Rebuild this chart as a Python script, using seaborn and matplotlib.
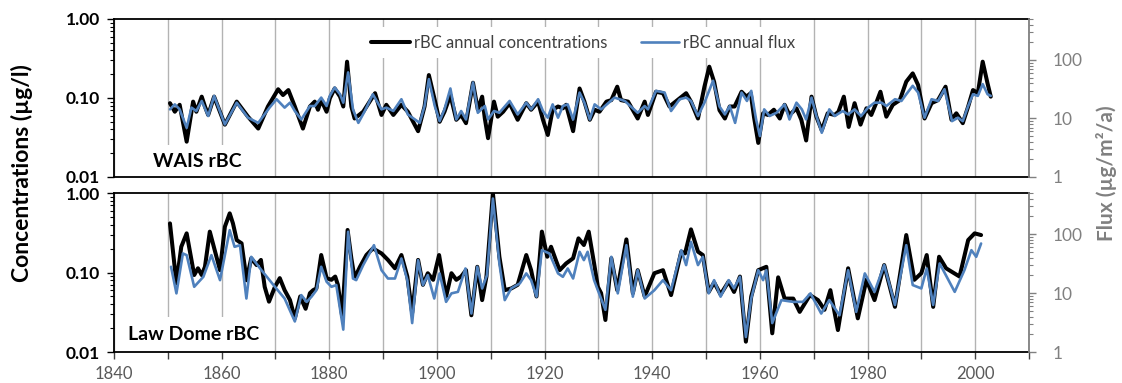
import numpy as np
import pandas as pd
import matplotlib
matplotlib.use("Agg")
import matplotlib.pyplot as plt
import seaborn as sns
from matplotlib.ticker import LogLocator, NullFormatter

# ---------------- data ----------------
wais_conc = [(1850.4,0.086),(1851.3,0.067),(1852.2,0.082),(1853.5,0.028),(1854.7,0.090),(1855.3,0.067),
 (1856.3,0.104),(1856.9,0.078),(1857.5,0.061),(1858.6,0.104),(1860.6,0.046),(1862.8,0.090),(1864.9,0.058),
 (1866.8,0.041),(1868.6,0.078),(1870.5,0.129),(1871.4,0.109),(1872.4,0.126),(1873.6,0.078),(1875.1,0.041),
 (1876.4,0.078),(1877.3,0.090),(1877.9,0.071),(1878.5,0.094),(1879.5,0.067),(1880.1,0.099),(1881.0,0.132),
 (1882.0,0.104),(1882.6,0.078),(1883.3,0.288),(1884.1,0.078),(1884.7,0.055),(1886.3,0.067),(1888.5,0.115),
 (1889.7,0.061),(1890.6,0.082),(1891.9,0.061),(1893.4,0.082),(1894.6,0.067),(1896.5,0.038),(1897.7,0.078),
 (1898.5,0.195),(1899.6,0.094),(1900.5,0.050),(1901.4,0.067),(1902.5,0.109),(1903.6,0.053),(1904.5,0.061),
 (1905.4,0.048),(1906.7,0.156),(1907.6,0.071),(1908.4,0.104),(1908.9,0.055),(1909.5,0.031),(1910.6,0.090),
 (1911.3,0.058),(1912.3,0.067),(1913.5,0.086),(1915.0,0.053),(1916.6,0.086),(1917.5,0.071),(1918.8,0.090),
 (1919.7,0.053),(1920.6,0.034),(1921.5,0.071),(1922.5,0.078),(1923.4,0.074),(1924.0,0.082),(1925.3,0.038),
 (1926.5,0.132),(1927.4,0.090),(1928.4,0.053),(1929.3,0.071),(1930.2,0.067),(1931.5,0.090),(1932.4,0.094),
 (1933.5,0.139),(1934.2,0.094),(1935.5,0.090),(1937.3,0.055),(1938.6,0.090),(1939.2,0.061),(1940.7,0.120),
 (1942.0,0.115),(1943.2,0.078),(1945.1,0.099),(1946.3,0.115),(1947.2,0.090),(1948.5,0.055),(1949.7,0.139),
 (1950.6,0.249),(1951.5,0.160),(1952.5,0.070),(1953.5,0.055),(1954.4,0.078),(1955.3,0.078),(1956.6,0.120),
 (1957.5,0.104),(1958.3,0.115),(1958.9,0.058),(1959.7,0.027),(1960.6,0.064),(1961.5,0.061),(1962.6,0.071),
 (1963.7,0.055),(1964.6,0.082),(1965.5,0.061),(1966.8,0.074),(1967.7,0.053),(1968.6,0.029),(1969.6,0.104),
 (1970.5,0.058),(1971.5,0.039),(1972.6,0.064),(1973.9,0.061),(1974.6,0.067),(1975.6,0.104),(1976.5,0.043),
 (1977.6,0.086),(1978.7,0.046),(1979.8,0.074),(1980.7,0.061),(1981.6,0.086),(1982.4,0.120),(1983.5,0.058),
 (1984.7,0.082),(1986.0,0.094),(1987.2,0.161),(1988.4,0.205),(1989.4,0.146),(1990.6,0.055),(1991.9,0.086),
 (1993.1,0.094),(1994.5,0.139),(1995.6,0.053),(1996.5,0.064),(1997.7,0.048),(1998.7,0.078),(1999.6,0.126),
 (2000.5,0.115),(2001.4,0.288),(2002.3,0.153),(2002.9,0.104)]

wais_flux = [(1850.4,14.3),(1851.3,17.4),(1852.2,14.3),(1853.5,6.9),(1854.4,15.3),(1855.3,13.4),(1856.3,19.9),
 (1857.5,11.0),(1858.6,24.3),(1860.6,7.9),(1862.8,18.6),(1864.9,10.3),(1866.8,8.4),(1868.9,15.3),(1870.2,21.3),
 (1871.7,15.3),(1872.7,18.6),(1873.6,13.4),(1874.8,9.6),(1876.4,16.3),(1877.3,16.3),(1878.5,22.7),(1879.5,16.3),
 (1880.1,24.3),(1881.0,33.8),(1882.0,25.9),(1882.6,18.6),(1883.5,61.2),(1884.4,14.3),(1885.4,8.4),(1886.6,13.4),
 (1888.1,25.9),(1889.7,14.3),(1890.6,15.3),(1891.9,13.4),(1893.4,21.3),(1894.6,11.7),(1896.8,8.4),(1897.7,16.3),
 (1898.5,47.0),(1899.6,16.3),(1900.5,9.0),(1901.4,14.3),(1902.5,32.5),(1903.6,9.6),(1904.5,13.4),(1905.4,9.6),
 (1906.7,41.2),(1907.6,12.5),(1908.9,16.3),(1909.5,9.6),(1910.6,13.4),(1911.6,12.5),(1913.5,19.9),(1915.0,11.7),
 (1916.6,18.6),(1917.5,14.3),(1918.8,21.3),(1919.7,13.4),(1920.6,10.3),(1921.5,17.4),(1922.5,10.3),(1923.4,16.3),
 (1924.3,17.4),(1925.3,9.6),(1926.5,27.7),(1927.4,18.6),(1928.4,9.6),(1929.3,17.4),(1930.5,14.3),(1933.0,22.7),
 (1934.9,19.9),(1937.3,12.5),(1938.6,16.3),(1939.2,14.3),(1940.7,29.6),(1942.3,27.7),(1943.5,13.4),(1945.1,21.3),
 (1946.3,22.7),(1947.2,19.9),(1948.5,11.0),(1949.7,18.6),(1951.3,44.0),(1952.5,16.0),(1953.5,11.7),(1954.4,16.3),
 (1955.4,8.4),(1956.6,27.7),(1957.6,19.9),(1958.4,29.6),(1959.3,9.6),(1960.0,5.0),(1960.8,14.3),(1961.8,11.0),
 (1963.1,12.5),(1964.6,17.4),(1965.5,9.6),(1966.8,18.6),(1967.8,14.3),(1968.6,9.6),(1969.6,22.7),(1970.5,11.0),
 (1971.5,5.7),(1972.9,14.3),(1973.9,11.0),(1975.4,13.4),(1976.4,11.7),(1977.6,14.3),(1978.8,11.0),(1980.1,15.3),
 (1981.3,18.6),(1982.6,18.6),(1983.5,16.3),(1985.1,21.3),(1986.3,19.9),(1987.2,25.9),(1988.4,36.1),(1989.4,27.7),
 (1990.6,10.3),(1991.9,21.3),(1993.1,19.9),(1994.3,31.6),(1995.7,9.0),(1996.8,10.3),(1997.7,9.0),(1998.7,16.3),
 (1999.6,25.9),(2000.5,24.3),(2001.4,38.6),(2002.3,25.9),(2002.9,24.3)]

lawdome_conc = [(1850.4,0.415),(1851.6,0.073),(1852.5,0.211),(1853.5,0.311),(1854.4,0.144),(1854.9,0.093),
 (1855.6,0.113),(1856.3,0.093),(1856.9,0.118),(1857.8,0.327),(1858.7,0.192),(1859.7,0.107),(1860.6,0.377),
 (1861.5,0.555),(1862.1,0.415),(1862.8,0.256),(1863.7,0.233),(1864.3,0.118),(1864.6,0.080),(1865.5,0.151),
 (1866.5,0.124),(1867.3,0.144),(1868.0,0.066),(1868.8,0.043),(1869.9,0.066),(1870.8,0.085),(1871.7,0.060),
 (1872.7,0.045),(1873.6,0.0265),(1874.6,0.050),(1875.6,0.035),(1876.4,0.055),(1877.0,0.060),(1877.6,0.063),
 (1878.5,0.166),(1879.5,0.085),(1880.4,0.081),(1881.1,0.089),(1881.6,0.070),(1882.4,0.028),(1883.4,0.343),
 (1884.1,0.151),(1884.7,0.085),(1885.7,0.118),(1886.9,0.166),(1888.1,0.201),(1889.7,0.174),(1890.9,0.144),
 (1892.2,0.113),(1893.4,0.166),(1894.5,0.089),(1895.4,0.031),(1896.5,0.144),(1897.4,0.070),(1898.3,0.098),
 (1899.3,0.081),(1900.4,0.166),(1901.7,0.050),(1902.7,0.098),(1903.6,0.081),(1904.5,0.089),(1905.4,0.107),
 (1906.4,0.029),(1907.5,0.118),(1908.4,0.045),(1909.2,0.089),(1910.4,0.990),(1911.6,0.158),(1912.6,0.060),
 (1913.8,0.063),(1915.0,0.070),(1916.6,0.166),(1917.5,0.107),(1918.5,0.050),(1919.5,0.327),(1920.5,0.158),
 (1921.2,0.211),(1922.2,0.137),(1922.8,0.107),(1924.0,0.130),(1925.3,0.151),(1926.3,0.269),(1927.3,0.222),
 (1928.2,0.327),(1929.2,0.130),(1929.9,0.066),(1930.5,0.055),(1931.3,0.0253),(1932.4,0.151),(1933.5,0.060),
 (1935.2,0.261),(1936.4,0.055),(1937.3,0.107),(1938.6,0.050),(1940.4,0.098),(1942.0,0.107),(1943.5,0.052),
 (1945.4,0.183),(1946.1,0.174),(1947.2,0.349),(1948.5,0.183),(1949.4,0.166),(1950.5,0.057),(1951.5,0.075),
 (1952.7,0.053),(1954.2,0.077),(1955.2,0.057),(1956.3,0.089),(1957.4,0.0135),(1958.4,0.050),(1959.7,0.107),
 (1961.2,0.118),(1962.3,0.0172),(1963.4,0.087),(1964.6,0.047),(1966.2,0.047),(1967.4,0.032),(1969.3,0.052),
 (1970.8,0.045),(1972.0,0.034),(1973.1,0.060),(1974.5,0.0189),(1976.4,0.113),(1978.2,0.0265),(1979.8,0.081),
 (1981.3,0.045),(1983.1,0.124),(1985.1,0.037),(1987.2,0.296),(1988.7,0.081),(1990.0,0.098),(1991.0,0.166),
 (1992.2,0.037),(1993.3,0.158),(1994.6,0.113),(1997.1,0.089),(1998.7,0.256),(1999.9,0.311),(2001.1,0.296)]

lawdome_flux = [(1850.6,28.0),(1851.6,9.9),(1852.8,47.1),(1853.5,44.1),(1854.9,12.8),(1856.6,18.9),(1858.1,44.1),
 (1859.7,16.6),(1861.5,117.0),(1862.4,61.1),(1863.4,65.1),(1864.6,8.1),(1865.5,41.3),(1867.4,24.5),(1869.9,12.8),
 (1871.7,8.1),(1873.6,3.3),(1874.8,9.25),(1875.8,7.1),(1876.7,8.7),(1877.6,11.2),(1878.5,28.0),(1879.5,15.6),
 (1880.4,12.8),(1881.3,13.7),(1882.6,2.4),(1883.5,110.0),(1884.4,17.7),(1885.0,16.6),(1886.3,29.9),(1888.3,65.1),
 (1889.7,24.5),(1890.9,17.7),(1892.2,17.7),(1893.4,38.7),(1894.5,16.6),(1895.4,3.1),(1896.5,36.3),(1897.4,13.7),
 (1898.3,20.2),(1899.5,8.1),(1900.5,21.6),(1901.7,7.1),(1902.7,9.9),(1903.9,10.5),(1905.3,26.2),(1906.4,4.5),
 (1907.5,28.0),(1908.4,12.0),(1909.3,20.2),(1910.4,403.0),(1911.6,31.9),(1912.6,7.6),(1913.8,12.0),(1915.4,14.6),
 (1916.6,21.6),(1917.5,16.6),(1918.5,8.7),(1919.5,53.6),(1920.9,47.1),(1922.5,21.6),(1923.4,18.9),(1924.3,26.2),
 (1925.3,17.7),(1926.5,50.3),(1927.3,36.3),(1928.0,50.3),(1929.2,16.6),(1929.9,11.2),(1931.3,5.2),(1932.4,41.3),
 (1933.6,9.9),(1935.2,65.1),(1936.4,8.7),(1937.3,24.5),(1938.6,8.1),(1940.4,11.2),(1942.0,16.6),(1943.5,11.2),
 (1945.4,53.6),(1946.3,29.9),(1947.2,74.0),(1948.5,29.9),(1949.4,41.3),(1950.5,9.9),(1951.5,16.6),(1952.7,8.7),
 (1954.2,16.6),(1955.2,12.0),(1956.3,18.9),(1957.4,1.8),(1958.4,8.1),(1959.7,24.5),(1960.6,16.6),(1961.2,24.5),
 (1962.3,3.1),(1964.0,7.6),(1966.2,7.1),(1968.0,7.1),(1969.4,9.9),(1971.4,4.5),(1972.9,7.6),(1974.8,4.2),
 (1976.4,24.5),(1977.9,4.8),(1979.5,21.6),(1981.3,10.5),(1983.1,29.9),(1985.1,6.3),(1987.2,65.1),(1988.4,13.7),
 (1990.0,12.0),(1991.0,26.2),(1992.2,6.3),(1993.4,31.9),(1996.2,10.5),(1998.0,24.5),(1999.3,53.6),(2000.2,41.3),
 (2001.1,69.5)]

panel_labels = ["WAIS rBC", "Law Dome rBC"]
legend_labels = ["rBC annual concentrations", "rBC annual flux"]
x_ticks = list(range(1840, 2011, 10))
x_tick_labels = [str(y) if (y - 1840) % 20 == 0 else "" for y in x_ticks]
conc_ticks = [0.01, 0.1, 1.0]
conc_tick_labels = ["0.01", "0.10", "1.00"]
flux_ticks = [1, 10, 100]
flux_tick_labels = ["1", "10", "100"]
conc_ylabel = "Concentrations (µg/l)"
flux_ylabel = "Flux (µg/m²/a)"

# ---------------- style ----------------
sns.set_theme(style="white")
plt.rcParams["font.family"] = ["Lato", "DejaVu Sans"]

BLACK = "#000000"
BLUE = "#4f81bd"
GRAY = "#808080"
GRID = "#b3b3b3"

fig = plt.figure(figsize=(11.22, 3.83), dpi=100)
ax_top = fig.add_axes([0.1016, 0.5379, 0.8155, 0.4125])
ax_bot = fig.add_axes([0.1016, 0.0809, 0.8155, 0.4151])


def draw_panel(ax, conc, flux, label, label_xy, bottom_labels):
    ax2 = ax.twinx()
    dfc = pd.DataFrame(conc, columns=["year", "value"])
    dff = pd.DataFrame(flux, columns=["year", "value"])
    sns.lineplot(data=dfc, x="year", y="value", ax=ax, color=BLACK, linewidth=2.9,
                 estimator=None, sort=False, solid_joinstyle="round", solid_capstyle="round")
    sns.lineplot(data=dff, x="year", y="value", ax=ax2, color=BLUE, linewidth=1.9,
                 estimator=None, sort=False, solid_joinstyle="round", solid_capstyle="round")

    ax.set_xlim(1840, 2010)
    ax.set_yscale("log")
    ax.set_ylim(0.01, 1.0)
    ax2.set_yscale("log")
    ax2.set_ylim(1, 500)
    ax.set_xlabel("")
    ax.set_ylabel("")
    ax2.set_ylabel("")

    # vertical grid
    ax.set_xticks(x_ticks)
    ax.set_axisbelow(True)
    ax.grid(axis="x", color=GRID, linewidth=1.0)
    ax.grid(axis="y", visible=False)
    ax2.grid(False)

    # left axis
    ax.set_yticks(conc_ticks, conc_tick_labels, fontweight="bold", fontsize=12.5, color="black")
    ax.yaxis.set_minor_locator(LogLocator(base=10, subs=np.arange(2, 10)))
    ax.yaxis.set_minor_formatter(NullFormatter())
    ax.tick_params(axis="y", which="major", left=True, direction="out", length=5, width=1,
                   color="black", pad=5)
    ax.tick_params(axis="y", which="minor", left=True, direction="out", length=3, width=0.8,
                   color="black")

    # right axis
    ax2.set_yticks(flux_ticks, flux_tick_labels, fontsize=12.5, color=GRAY)
    ax2.yaxis.set_minor_locator(LogLocator(base=10, subs=np.arange(2, 10)))
    ax2.yaxis.set_minor_formatter(NullFormatter())
    ax2.tick_params(axis="y", which="major", right=True, direction="out", length=5, width=1,
                    color=GRAY, pad=12)
    ax2.tick_params(axis="y", which="minor", right=True, direction="out", length=3, width=0.8,
                    color=GRAY)

    # x axis
    if bottom_labels:
        ax.set_xticklabels(x_tick_labels, fontsize=12, color="#595959")
        ax.tick_params(axis="x", bottom=True, direction="out", length=5, width=1,
                       color="#404040", pad=5)
    else:
        ax.tick_params(axis="x", bottom=False, labelbottom=False)

    # spines
    for s in ["left", "top", "bottom"]:
        ax.spines[s].set_color("black")
        ax.spines[s].set_linewidth(1.3)
        ax2.spines[s].set_visible(False)
    ax.spines["right"].set_visible(False)
    ax2.spines["right"].set_color(GRAY)
    ax2.spines["right"].set_linewidth(1.3)

    ax.text(label_xy[0], label_xy[1], label, transform=ax.transAxes, ha="left", va="center",
            fontsize=14, fontweight="bold", color="black", zorder=1,
            bbox=dict(boxstyle="square,pad=0.45", facecolor="white", edgecolor="none"))
    return ax2


ax2_top = draw_panel(ax_top, wais_conc, wais_flux, panel_labels[0], (0.043, 0.095), False)
ax2_bot = draw_panel(ax_bot, lawdome_conc, lawdome_flux, panel_labels[1], (0.0153, 0.113), True)

handles = [ax_top.get_lines()[0], ax2_top.get_lines()[0]]
leg = ax2_top.legend(handles, legend_labels, loc="center", bbox_to_anchor=(0.513, 0.85), ncol=2,
                     frameon=True, facecolor="white", edgecolor="none", framealpha=1, fancybox=False,
                     fontsize=12, handlelength=2.3, columnspacing=2.0, handletextpad=0.25,
                     borderpad=0.45, labelcolor="#404040")

fig.text(0.02, 0.548, conc_ylabel, rotation=90, ha="center", va="center", fontsize=16.5,
         fontweight="bold", color="black")
fig.text(0.9865, 0.548, flux_ylabel, rotation=90, ha="center", va="center", fontsize=15,
         fontweight="bold", color=GRAY)

fig.savefig("out.png", dpi=100)
